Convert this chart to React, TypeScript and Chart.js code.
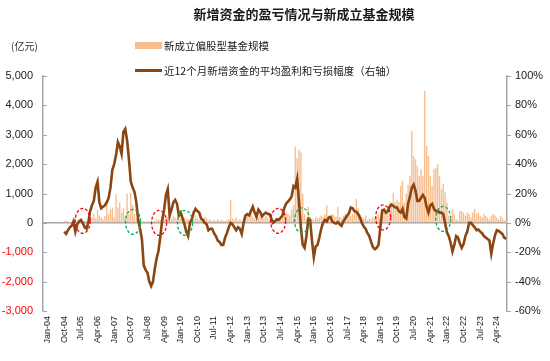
import React, { useEffect, useRef } from 'react';
import { Chart, registerables } from 'chart.js';

Chart.register(...registerables);

// ---------- categories (monthly, Nov-03 .. Sep-24) ----------
const MONTH_NAMES = ['Jan', 'Feb', 'Mar', 'Apr', 'May', 'Jun', 'Jul', 'Aug', 'Sep', 'Oct', 'Nov', 'Dec'];
const FIRST_YEAR = 2003;
const FIRST_MONTH = 10; // Nov
const MONTH_COUNT = 251;
const categories: string[] = Array.from({ length: MONTH_COUNT }, (_, i) => {
  const m = FIRST_MONTH + i;
  const yy = (FIRST_YEAR + Math.floor(m / 12)) % 100;
  return `${MONTH_NAMES[m % 12]}-${String(yy).padStart(2, '0')}`;
});

// ---------- tick labels shown on the x axis ----------
const xTickLabels = [
  'Jan-04', 'Oct-04', 'Jul-05', 'Apr-06', 'Jan-07', 'Oct-07', 'Jul-08', 'Apr-09', 'Jan-10', 'Oct-10',
  'Jul-11', 'Apr-12', 'Jan-13', 'Oct-13', 'Jul-14', 'Apr-15', 'Jan-16', 'Oct-16', 'Jul-17', 'Apr-18',
  'Jan-19', 'Oct-19', 'Jul-20', 'Apr-21', 'Jan-22', 'Oct-22', 'Jul-23', 'Apr-24',
];

// ---------- 新成立偏股型基金规模 (亿元), monthly from Nov-03 ----------
const newFundSize: number[] = [
  0, 0, 0, 0, 0, 0, 0, 0, 0, 0, 0, 60,
  80, 50, 20, 30, 20, 40, 30, 50, 60, 40, 80, 60,
  100, 120, 180, 300, 150, 460, 250, 180, 120, 240, 690, 300,
  460, 520, 200, 980, 520, 690, 350, 500, 250, 1000, 300, 1020,
  600, 300, 150, 80, 60, 40, 60, 30, 50, 40, 60, 40,
  80, 100, 120, 100, 180, 150, 240, 200, 300, 150, 250, 180,
  120, 200, 150, 100, 180, 120, 150, 100, 200, 120, 250, 150,
  100, 180, 120, 200, 150, 80, 120, 60, 100, 80, 120, 60,
  100, 80, 60, 100, 120, 780, 150, 100, 180, 80, 120, 60,
  150, 200, 250, 180, 300, 220, 150, 250, 180, 300, 200, 160,
  250, 180, 120, 150, 100, 120, 80, 150, 200, 300, 250, 350,
  300, 250, 460, 600, 2600, 2200, 2500, 2400, 1000, 300, 150, 550,
  200, 150, 100, 200, 150, 180, 250, 200, 300, 600, 250, 200,
  300, 250, 200, 550, 200, 150, 250, 300, 200, 350, 250, 300,
  400, 820, 500, 300, 200, 150, 250, 100, 150, 120, 200, 150,
  250, 300, 200, 350, 450, 400, 500, 700, 600, 1030, 700, 800,
  700, 1260, 1430, 690, 1000, 1300, 1600, 3130, 2280, 2170, 1940, 1600,
  1830, 1600, 4490, 2620, 2280, 1600, 1260, 1830, 1880, 2000, 1600, 1150,
  1320, 1030, 690, 240, 120, 465, 300, 125, 80, 410, 400, 350,
  240, 350, 300, 180, 350, 465, 300, 350, 240, 180, 300, 240,
  180, 120, 240, 300, 250, 180, 120, 240, 180, 100, 80,
];

// ---------- 近12个月新增资金的平均盈利和亏损幅度 (%), monthly from Nov-03 ----------
const avgProfitPct: (number | null)[] = [
  null, null, null, null, null, null, null, null, null, null, null, -6,
  -7.5, -5, -3, -2, 1, -6, -1, 1, 2, 0, -3, -4,
  0, 8, 12, 15, 24, 28, 14, 10, 11, 12, 14, 17,
  24, 36, 40, 46, 55, 52, 47, 62, 64, 56, 43, 28,
  24, 21, 14, 2, -4, -11, -29, -32, -34, -40, -43, -40,
  -31, -24, -19, -9, 2, 9, 19, 23, 5, 9, 14, 15.6,
  13, 5, 7, 3, -1, -6, -9, 0, 2.5, 7, 9.5, 8,
  7, 3, 2, 0, -1, -5, -4, -4, -7, -9, -12, -13,
  -15, -15, -10, -7, -3, 0, -1, -3, -5, -3, -4, -7.5,
  0, 5, 6, 5, 8, 11, 7, 4, 9, 7.5, 4.5, 6,
  7, 6, 6, 3, 0, 1, 2.5, 2, 3.5, 5, 10, 13,
  14.5, 16, 18, 25, 24, 30, 14, -3, -15, -17, -9, 2.5,
  2, -12, -23.5, -16, -15, -10, -4, 0, 2, 1, 3.5, 4,
  1, 0, -0.5, 0.5, -1, -2, 1, 3, 5, 6.5, 10.5, 10,
  8, 7.5, 6, 3.5, 0, -2.5, -4, -7, -9, -13, -16.5, -18,
  -17, -15, -3, 8.5, 9, 7, 8, 11, 12.5, 11.5, 10.5, 10.5,
  8, 7, 9.5, 4, 3, 13, 18, 24, 26, 22, 15, 15,
  17, 19, 17, 11, 7, 12, 13, 9.5, 8, 8, 7, 7,
  6, 0, -6.5, -9, -13.5, -19.5, -15, -9, -10, -14, -17, -14.5,
  -9, -6, 0, 0, -1.5, -3, -5, -4.5, -6, -7, -9, -10,
  -11, -12, -21, -14, -8.5, -5, -5.5, -6.5, -7.5, -10, -11,
];

// ---------- dashed ellipse annotations: category index and value on the right axis ----------
const ellipseAt = [21, 48.2, 62.3, 76.3, 126.7, 139.6, 183.5, 216];
const ellipsePct = [1.4, 0.7, 0, 0, 1.4, 1.7, 3.7, 2.7];
const ellipseKind = ['red', 'green', 'red', 'green', 'red', 'green', 'red', 'green'];

const TITLE = '新增资金的盈亏情况与新成立基金规模';
const BAR_LABEL = '新成立偏股型基金规模';
const LINE_LABEL = '近12个月新增资金的平均盈利和亏损幅度（右轴）';
const UNIT_LABEL = '(亿元)';

const BAR_COLOR = '#F8BE8E';
const LINE_COLOR = '#8B4513';
const AXIS_COLOR = '#A6A6A6';
const TEXT_COLOR = '#1a1a1a';
const CJK = "'Noto Sans CJK SC', 'Noto Sans', sans-serif";
const LATIN = "'Liberation Sans', Arial, sans-serif";

const decorPlugin = {
  id: 'decor',
  afterDatasetsDraw(chart: any) {
    const { ctx, scales } = chart;
    const x = scales.x;
    const y1 = scales.y1;
    ctx.save();
    ctx.setLineDash([3, 2]);
    ctx.lineWidth = 1.3;
    ellipseAt.forEach((at, k) => {
      const cx = x.getPixelForValue(at);
      const cy = y1.getPixelForValue(ellipsePct[k]);
      ctx.strokeStyle = ellipseKind[k] === 'red' ? '#FF0000' : '#00B050';
      ctx.beginPath();
      ctx.ellipse(cx, cy, 7.5, 12.5, 0, 0, Math.PI * 2);
      ctx.stroke();
    });
    ctx.restore();
  },
  afterDraw(chart: any) {
    const { ctx, scales } = chart;
    const y = scales.y;
    const y1 = scales.y1;
    ctx.save();
    // tick marks
    ctx.strokeStyle = AXIS_COLOR;
    ctx.lineWidth = 1;
    y.ticks.forEach((t: any) => {
      const py = Math.round(y.getPixelForValue(t.value)) + 0.5;
      ctx.beginPath();
      ctx.moveTo(y.right, py);
      ctx.lineTo(y.right + 4, py);
      ctx.stroke();
    });
    y1.ticks.forEach((t: any) => {
      const py = Math.round(y1.getPixelForValue(t.value)) + 0.5;
      ctx.beginPath();
      ctx.moveTo(y1.left, py);
      ctx.lineTo(y1.left + 4, py);
      ctx.stroke();
    });
    // title
    ctx.fillStyle = TEXT_COLOR;
    ctx.textBaseline = 'middle';
    ctx.textAlign = 'center';
    ctx.font = `bold 13px ${CJK}`;
    ctx.fillText(TITLE, 304, 14);
    // unit
    ctx.textAlign = 'left';
    ctx.font = `10px ${CJK}`;
    ctx.fillStyle = '#333333';
    ctx.fillText(UNIT_LABEL, 11, 46);
    // legend
    ctx.fillStyle = BAR_COLOR;
    ctx.fillRect(135, 42, 27, 7);
    ctx.strokeStyle = LINE_COLOR;
    ctx.lineWidth = 3;
    ctx.beginPath();
    ctx.moveTo(135, 70.5);
    ctx.lineTo(162, 70.5);
    ctx.stroke();
    ctx.fillStyle = TEXT_COLOR;
    ctx.font = `10.5px ${CJK}`;
    ctx.fillText(BAR_LABEL, 164, 46);
    ctx.fillText(LINE_LABEL, 164, 71);
    ctx.restore();
  },
};

export default function App() {
  const ref = useRef<HTMLCanvasElement>(null);
  useEffect(() => {
    document.body.style.margin = '0';
    const tickSet = new Set(xTickLabels);
    const chart = new Chart(ref.current as HTMLCanvasElement, {
      type: 'bar',
      data: {
        labels: categories,
        datasets: [
          {
            type: 'line',
            label: LINE_LABEL,
            data: avgProfitPct,
            yAxisID: 'y1',
            borderColor: LINE_COLOR,
            borderWidth: 2.6,
            pointRadius: 0,
            tension: 0,
            spanGaps: false,
            order: 0,
          } as any,
          {
            type: 'bar',
            label: BAR_LABEL,
            data: newFundSize,
            yAxisID: 'y',
            backgroundColor: BAR_COLOR,
            borderWidth: 0,
            barPercentage: 0.75,
            categoryPercentage: 1,
            order: 1,
          } as any,
        ],
      },
      options: {
        responsive: false,
        animation: false,
        devicePixelRatio: 1,
        layout: { padding: { top: 76, left: 0, right: 0, bottom: 0 } },
        plugins: {
          legend: { display: false },
          title: { display: false },
          tooltip: { enabled: false },
        },
        scales: {
          x: {
            type: 'category',
            offset: true,
            grid: { display: false, drawTicks: false },
            border: { display: false },
            ticks: {
              autoSkip: false,
              maxRotation: 90,
              minRotation: 90,
              padding: 5,
              color: TEXT_COLOR,
              font: { family: "'Liberation Sans Narrow', 'Liberation Sans', Arial, sans-serif", size: 9 },
              callback: (_v: any, idx: number) => (tickSet.has(categories[idx]) ? categories[idx] : ''),
            },
            afterFit: (scale: any) => {
              scale.height = 50;
            },
          },
          y: {
            type: 'linear',
            position: 'left',
            min: -3000,
            max: 5000,
            grid: {
              drawTicks: false,
              color: (c: any) => (c.tick && c.tick.value === 0 ? AXIS_COLOR : 'rgba(0,0,0,0)'),
              lineWidth: 1.5,
            },
            border: { color: AXIS_COLOR, width: 1.5 },
            ticks: {
              stepSize: 1000,
              padding: 10,
              color: (c: any) => (c.tick && c.tick.value < 0 ? '#FF0000' : TEXT_COLOR),
              font: { family: LATIN, size: 11 },
              callback: (v: any) => Number(v).toLocaleString('en-US'),
            },
            afterFit: (scale: any) => {
              scale.width = 43;
            },
          },
          y1: {
            type: 'linear',
            position: 'right',
            min: -60,
            max: 100,
            grid: { drawOnChartArea: false, drawTicks: false },
            border: { color: AXIS_COLOR, width: 1.5 },
            ticks: {
              stepSize: 20,
              padding: 8,
              color: TEXT_COLOR,
              font: { family: LATIN, size: 11 },
              callback: (v: any) => `${v}%`,
            },
            afterFit: (scale: any) => {
              scale.width = 43;
            },
          },
        },
      },
      plugins: [decorPlugin],
    } as any);
    return () => chart.destroy();
  }, []);
  return <canvas ref={ref} width={550} height={361} style={{ display: 'block' }} />;
}
